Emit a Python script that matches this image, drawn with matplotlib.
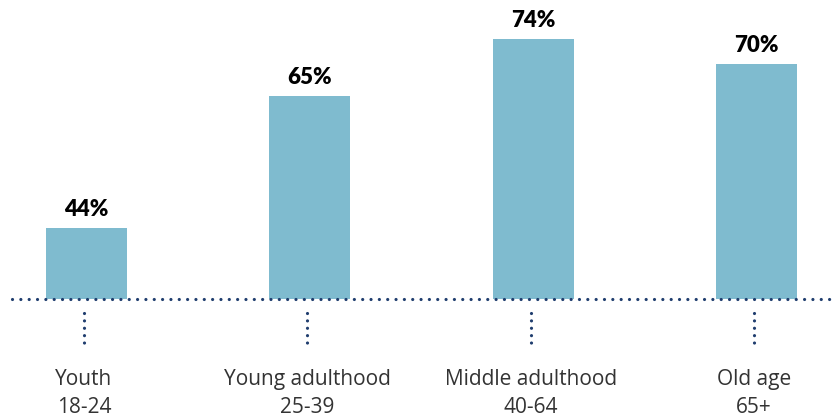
import matplotlib.pyplot as plt
import numpy as np

# data
groups = ['Youth', 'Young adulthood', 'Middle adulthood', 'Old age']
ages = ['18-24', '25-39', '40-64', '65+']
share = [44, 65, 74, 70]

BAR = '#7fbbcf'
DOT = '#1f3d6e'
y0 = 32.7  # where the dotted baseline sits

fig = plt.figure(figsize=(8.34, 4.18), dpi=100)
# axes for bars: from baseline (119px from bottom) to top
ax = fig.add_axes([0, 119 / 418, 1, 299 / 418])
x = np.arange(len(share))
ax.bar(x, share, width=0.363, color=BAR, zorder=2)
ax.set_xlim(-86.5 / 223.3, (834 - 86.5) / 223.3)
ax.set_ylim(y0, y0 + 299 / 6.3)
ax.axis('off')

# dotted baseline
ax.plot([-75 / 223.3, 3.35], [y0, y0], color=DOT, lw=2.3,
        ls=(0, (0.01, 2.6)), dash_capstyle='round', clip_on=False, zorder=3)

for i, v in enumerate(share):
    ax.text(x[i], v + 12 / 6.3, f'{v}%', ha='center', va='baseline',
            fontsize=16, fontweight='heavy', family='Lato', color='black')
    # little vertical dotted stem
    xs = x[i] - 2.5 / 223.3
    ax.plot([xs, xs], [y0 - 14 / 6.3, y0 - 45.5 / 6.3], color=DOT, lw=2.3,
            ls=(0, (0.01, 2.3)), dash_capstyle='round', clip_on=False)
    ax.text(xs, y0 - 70 / 6.3, groups[i] + '\n' + ages[i], ha='center',
            va='top', fontsize=15, family='Open Sans',
            color='#333333', linespacing=1.45)

fig.savefig('out.png', dpi=100)
